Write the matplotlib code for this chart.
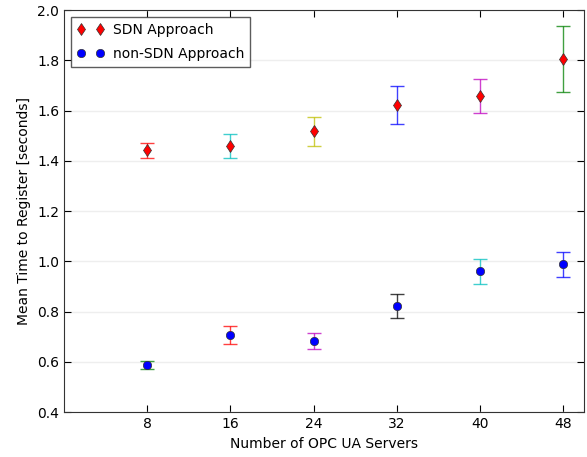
import matplotlib
matplotlib.use("Agg")
import matplotlib.pyplot as plt

servers = [8, 16, 24, 32, 40, 48]
sdn_mean = [1.443, 1.459, 1.518, 1.622, 1.658, 1.805]
sdn_err = [0.030, 0.048, 0.058, 0.074, 0.066, 0.131]
non_sdn_mean = [0.587, 0.706, 0.683, 0.823, 0.960, 0.989]
non_sdn_err = [0.015, 0.036, 0.032, 0.047, 0.051, 0.050]
sdn_colors = ["r", "c", "y", "b", "m", "g"]
non_sdn_colors = ["g", "r", "m", "k", "c", "b"]

fig, ax = plt.subplots(figsize=(5.87, 4.57), dpi=100)
fig.subplots_adjust(left=0.109, right=0.995, top=0.978, bottom=0.098)

for x, m, e, c in zip(servers, sdn_mean, sdn_err, sdn_colors):
    ax.errorbar(x, m, yerr=e, fmt="none", ecolor=c, elinewidth=1, capsize=5, capthick=1, alpha=0.75)
for x, m, e, c in zip(servers, non_sdn_mean, non_sdn_err, non_sdn_colors):
    ax.errorbar(x, m, yerr=e, fmt="none", ecolor=c, elinewidth=1, capsize=5, capthick=1, alpha=0.75)

ax.plot(servers, sdn_mean, "d", color="red", mec="#333333", mew=0.5, ms=6.5, ls="none", label="SDN Approach", zorder=3)
ax.plot(servers, non_sdn_mean, "o", color="blue", mec="#333333", mew=0.5, ms=6, ls="none", label="non-SDN Approach", zorder=3)

ax.set_xlim(0, 50)
ax.set_ylim(0.4, 2.0)
ax.set_xticks(servers)
ax.set_yticks([0.4, 0.6, 0.8, 1.0, 1.2, 1.4, 1.6, 1.8, 2.0])
ax.yaxis.grid(True, color="#eeeeee", lw=1)
ax.set_axisbelow(True)
ax.tick_params(direction="in", top=True, right=True, labelsize=10, length=5)
ax.set_xlabel("Number of OPC UA Servers", fontsize=10)
ax.set_ylabel("Mean Time to Register [seconds]", fontsize=10)
for s in ax.spines.values():
    s.set_color("#333333")
leg = ax.legend(loc="upper left", numpoints=2, fancybox=False, fontsize=10,
                handletextpad=0.6, borderaxespad=0.5, borderpad=0.4, labelspacing=0.75)
leg.get_frame().set_edgecolor("#333333")
leg.get_frame().set_linewidth(1)

plt.savefig("out.png", dpi=100)
